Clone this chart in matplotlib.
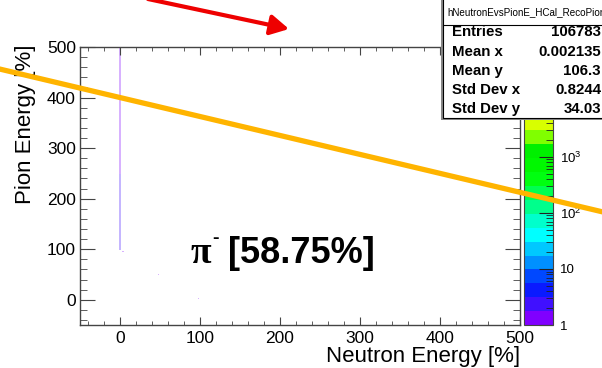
import numpy as np
import matplotlib
matplotlib.use("Agg")
import matplotlib.pyplot as plt
from matplotlib.colors import ListedColormap, LogNorm
from matplotlib.ticker import MultipleLocator, LogLocator, FuncFormatter
from matplotlib.patches import Rectangle
from matplotlib.lines import Line2D

plt.rcParams['font.family'] = ['Liberation Sans', 'DejaVu Sans']
plt.rcParams['mathtext.fontset'] = 'custom'
plt.rcParams['mathtext.rm'] = 'Liberation Sans'
plt.rcParams['mathtext.it'] = 'Liberation Sans:italic'

# histogram content
# column at neutron energy 0: (y from, y to, counts per bin)
column_x = 0
column_segments = [(100, 250, 3), (250, 500, 1)]
# a few isolated cells (x, y, counts)
single_cells = [(4, 96, 1), (48, 50, 1), (98, 2, 1)]
z_min = 1
z_max = 9.1e4

# stats box
hist_name = "hNeutronEvsPionE_HCal_RecoPion"
stat_labels = ["Entries", "Mean x", "Mean y", "Std Dev x", "Std Dev y"]
stat_values = ["106783", "0.002135", "106.3", "0.8244", "34.03"]

# cut line drawn across the plot
cut_intercept = 400
cut_slope = -0.375

particle = "\u03c0"
label_text = "[58.75%]"

# ROOT-like palette, 20 contour levels
palette = ["#8000ff", "#4010ff", "#0a1aff", "#0048ff", "#0090ff",
           "#00c8ff", "#00ffff", "#00ffcc", "#00ff8c", "#00ff50",
           "#00ff10", "#00f800", "#00f000", "#80ff00", "#d8ff00",
           "#ffff00", "#ffc800", "#ff8c00", "#ff4600", "#ff0000"]
cmap = ListedColormap(palette)

# fill a 2D histogram
x_edges = np.arange(-51, 503, 2)
y_edges = np.arange(-51, 503, 2)
counts = np.zeros((len(x_edges) - 1, len(y_edges) - 1))
ix = np.searchsorted(x_edges, column_x, side='right') - 1
for y0, y1, c in column_segments:
    j0 = np.searchsorted(y_edges, y0, side='right') - 1
    j1 = np.searchsorted(y_edges, y1, side='right') - 1
    counts[ix, j0:j1] = c
for cx, cy, c in single_cells:
    i = np.searchsorted(x_edges, cx, side='right') - 1
    j = np.searchsorted(y_edges, cy, side='right') - 1
    counts[i, j] = c
counts = np.ma.masked_where(counts <= 0, counts)

fig = plt.figure(figsize=(6.02, 3.68), dpi=100)
ax = fig.add_axes([80 / 602, 43 / 368, 440 / 602, 278 / 368])
norm = LogNorm(vmin=z_min, vmax=z_max)
mesh = ax.pcolormesh(x_edges, y_edges, counts.T, cmap=cmap, norm=norm,
                     alpha=0.3, linewidth=0)
ax.set_xlim(-50, 500)
ax.set_ylim(-50, 500)

ax.xaxis.set_major_locator(MultipleLocator(100))
ax.xaxis.set_minor_locator(MultipleLocator(20))
ax.yaxis.set_major_locator(MultipleLocator(100))
ax.yaxis.set_minor_locator(MultipleLocator(20))
ax.tick_params(which='both', direction='in', top=True, right=True,
               colors='#444444', labelcolor='black', labelsize=12.5)
ax.tick_params(axis='x', which='major', length=6, pad=4)
ax.tick_params(axis='x', which='minor', length=3)
ax.tick_params(axis='y', which='major', length=10.5, pad=3)
ax.tick_params(axis='y', which='minor', length=5)
for s in ax.spines.values():
    s.set_color('#444444')
    s.set_linewidth(1)

fig.text(520 / 602, 1 - 362 / 368, "Neutron Energy [%]", ha='right',
         va='baseline', fontsize=16)
fig.text(26 / 602, 1 - 45 / 368, "Pion Energy [%]", ha='center', va='top',
         rotation=90, fontsize=16)

# pi- label, positions in pixels from the top-left
fig.text(191 / 602, 1 - 263 / 368, particle, family='Liberation Serif',
         fontsize=27, fontweight='bold', ha='left', va='baseline')
fig.text(212 / 602, 1 - 243 / 368, "-", fontsize=14, fontweight='bold',
         ha='left', va='baseline')
fig.text(228 / 602, 1 - 263 / 368, label_text, fontsize=26,
         fontweight='bold', ha='left', va='baseline')

# colour bar
cax = fig.add_axes([524 / 602, 43 / 368, 29 / 602, 278 / 368])
cb = fig.colorbar(mesh, cax=cax)
cb.solids.set_alpha(1)
cb.outline.set_edgecolor('#444444')
cax.yaxis.set_major_locator(LogLocator(base=10))
cax.yaxis.set_minor_locator(LogLocator(base=10, subs=np.arange(2, 10)))


def fmt(v, pos):
    e = int(round(np.log10(v)))
    if e == 0:
        return "1"
    if e == 1:
        return "10"
    return r"$10^{%d}$" % e


cax.yaxis.set_major_formatter(FuncFormatter(fmt))
cax.yaxis.set_minor_formatter(FuncFormatter(lambda v, p: ""))
cax.tick_params(which='both', direction='in', colors='#222222',
                labelcolor='black', labelsize=9.5)
cax.tick_params(which='major', length=10, pad=5)
cax.tick_params(which='minor', length=5)

# cut line across the whole canvas
xs = np.array([-160.0, 620.0])
cut = Line2D(xs, cut_intercept + cut_slope * xs, transform=ax.transData,
             color='#ffb400', linewidth=3.8, zorder=10, clip_on=False)
fig.add_artist(cut)

# stats box
bx0 = 443 / 602
by0 = 1 - 118 / 368
fig.add_artist(Rectangle((bx0 - 0.003, by0 - 0.006), 1 - bx0 + 0.01,
                         1 - by0 + 0.01, transform=fig.transFigure,
                         facecolor='#888888', edgecolor='none', zorder=11))
fig.add_artist(Rectangle((bx0, by0), 1 - bx0 + 0.01, 1 - by0 + 0.01,
                         transform=fig.transFigure, facecolor='white',
                         edgecolor='black', linewidth=0.8, zorder=12))
fig.add_artist(Line2D([bx0, 1], [1 - 25 / 368, 1 - 25 / 368],
                      transform=fig.transFigure, color='black',
                      linewidth=0.8, zorder=13))
fig.text(447 / 602, 1 - 12 / 368, hist_name, ha='left', va='center',
         fontsize=7.1, zorder=14)
row_y = [32, 52, 71, 90, 109]
for lab, val, ry in zip(stat_labels, stat_values, row_y):
    fig.text(452 / 602, 1 - ry / 368, lab, ha='left', va='center',
             fontsize=10.8, fontweight='bold', zorder=14)
    fig.text(601 / 602, 1 - ry / 368, val, ha='right', va='center',
             fontsize=10.8, fontweight='bold', zorder=14)

# red arrow
ax.annotate('', xy=(289, 368 - 29), xytext=(148, 369),
            xycoords='figure pixels', textcoords='figure pixels',
            annotation_clip=False,
            arrowprops=dict(arrowstyle='-|>,head_length=0.55,head_width=0.3',
                            color='#ee0000', lw=3, mutation_scale=20,
                            shrinkA=0, shrinkB=0))

fig.savefig("out.png", dpi=100)
